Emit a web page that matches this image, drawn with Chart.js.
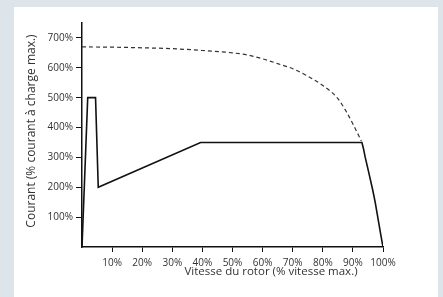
<!DOCTYPE html>
<html>
<head>
<meta charset="utf-8">
<script src="https://cdn.jsdelivr.net/npm/chart.js@4"></script>
<style>
  body { margin: 0; background: #dde4ea; }
  #panel { position: absolute; left: 14px; top: 7px; width: 424px; height: 290px; background: #fff; }
  #myChart { position: absolute; left: 0; top: 0; }
</style>
</head>
<body>
<div id="panel"></div>
<canvas id="myChart" width="443" height="297"></canvas>
<script>
// courbe en trait plein (courant avec démarreur)
var vitesseCourant = [0, 1.9, 4.5, 5.4, 39.4, 93, 93.5, 94.1, 94.8, 95.6, 96.6, 97.4, 98.0, 98.6, 99.2, 99.6, 100];
var courant = [0, 500, 500, 200, 350, 350, 330, 300, 270, 235, 190, 150, 115, 80, 45, 22, 0];

// courbe en pointillés (démarrage direct)
var vitesseDirect = [0, 10, 20, 30, 40, 50, 55, 60, 65, 70, 75, 80, 85, 88, 90, 92.8];
var courantDirect = [670, 669, 667, 664, 658, 650, 643, 630, 614, 597, 572, 541, 497, 450, 412, 355];

var xTicks = [10, 20, 30, 40, 50, 60, 70, 80, 90, 100];
var yTicks = [100, 200, 300, 400, 500, 600, 700];

var textColor = '#333';
var fontName = "'Open Sans', sans-serif";

function toPoints(xs, ys) {
    let pts = [];
    for (let i in xs) {
        pts.push({ x: xs[i], y: ys[i] });
    }
    return pts;
}

// titres des axes dessinés à la main (le titre X est décalé vers la droite)
var axisTitles = {
    id: 'axisTitles',
    afterDraw: function (chart) {
        let ctx = chart.ctx;
        ctx.save();
        ctx.fillStyle = textColor;
        ctx.textAlign = 'center';
        ctx.textBaseline = 'middle';
        ctx.font = '11.5px ' + fontName;
        ctx.fillText('Vitesse du rotor (% vitesse max.)', 271, 272);
        ctx.font = '12px ' + fontName;
        ctx.translate(32, 131);
        ctx.rotate(-Math.PI / 2);
        ctx.fillText('Courant (% courant à charge max.)', 0, 0);
        ctx.restore();
    }
};

var ctx = document.getElementById('myChart').getContext('2d');
var chart = new Chart(ctx, {
    type: 'scatter',
    data: {
        datasets: [{
            data: toPoints(vitesseCourant, courant),
            showLine: true,
            borderColor: '#111',
            borderWidth: 1.6,
            pointRadius: 0,
            fill: false
        }, {
            data: toPoints(vitesseDirect, courantDirect),
            showLine: true,
            borderColor: '#333',
            borderWidth: 1.2,
            borderDash: [4, 3],
            pointRadius: 0,
            cubicInterpolationMode: 'monotone',
            fill: false
        }]
    },
    options: {
        responsive: false,
        animation: false,
        layout: { padding: { left: 0, right: 60, top: 23, bottom: 10 } },
        plugins: { legend: { display: false }, tooltip: { enabled: false } },
        scales: {
            x: {
                type: 'linear',
                min: 0,
                max: 100,
                afterBuildTicks: (axis) => { axis.ticks = xTicks.map(v => ({ value: v })); },
                afterFit: (axis) => { axis.height = 40; },
                border: { color: '#111', width: 1.5 },
                grid: { drawOnChartArea: false, tickLength: 5, color: '#111', tickWidth: 1 },
                ticks: {
                    color: textColor,
                    padding: 5,
                    maxRotation: 0,
                    font: { family: fontName, size: 10 },
                    callback: (v) => v + '%'
                }
            },
            y: {
                min: 0,
                max: 750,
                afterBuildTicks: (axis) => { axis.ticks = yTicks.map(v => ({ value: v })); },
                afterFit: (axis) => { axis.width = 82; },
                border: { color: '#111', width: 1.5 },
                grid: { drawOnChartArea: false, tickLength: 6, color: '#111', tickWidth: 1 },
                ticks: {
                    color: textColor,
                    padding: 3,
                    font: { family: fontName, size: 10 },
                    callback: (v) => v + '%'
                }
            }
        }
    },
    plugins: [axisTitles]
});
</script>
</body>
</html>
